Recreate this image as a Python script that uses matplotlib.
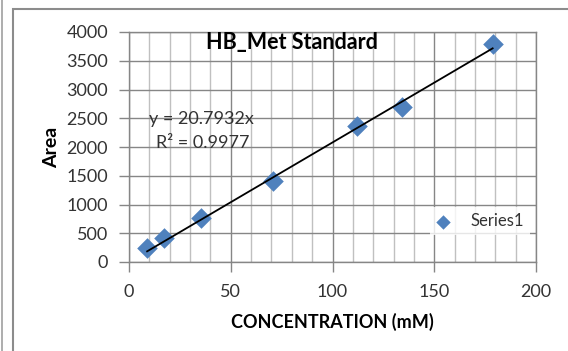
import matplotlib.pyplot as plt
from matplotlib.patches import Rectangle
from matplotlib.lines import Line2D
from matplotlib.ticker import MultipleLocator

# standard curve data
conc = [8.9, 17.4, 35.5, 71.0, 112.0, 134.0, 178.7]
area = [240, 412, 760, 1414, 2370, 2690, 3800]
slope = 20.7932
r2 = 0.9977

plt.rcParams['font.family'] = ['Lato', 'DejaVu Sans']
txt = '#333333'

fig = plt.figure(figsize=(5.68, 3.51), dpi=100)
W, H = 568, 351

# chart area frame (Excel style)
fig.patches.append(Rectangle((13 / W, -0.1), 1.0, (H - 9) / H + 0.1, transform=fig.transFigure,
                             fill=False, edgecolor='#8c8c8c', linewidth=1.5))
fig.lines.append(Line2D([1.5 / W, 1.5 / W], [0, 1], transform=fig.transFigure,
                        color='#a0a0a0', linewidth=1.2))

ax = fig.add_axes([129 / W, 1 - 262 / H, 407 / W, 230 / H])
ax.set_xlim(0, 200)
ax.set_ylim(0, 4000)
ax.xaxis.set_major_locator(MultipleLocator(50))
ax.xaxis.set_minor_locator(MultipleLocator(10))
ax.yaxis.set_major_locator(MultipleLocator(500))

ax.grid(True, which='minor', axis='x', color='#c0c0c0', linewidth=1.0)
ax.grid(True, which='major', axis='both', color='#868686', linewidth=1.0)
ax.set_axisbelow(True)

for s in ax.spines.values():
    s.set_color('#868686')
    s.set_linewidth(1.0)
    s.set_zorder(6)

ax.tick_params(which='major', length=7, width=1.0, color='#868686', labelcolor=txt, labelsize=13)
ax.tick_params(axis='y', pad=8)
ax.tick_params(axis='x', pad=9)
ax.tick_params(which='minor', length=0)

ax.scatter(conc, area, marker='D', s=110, color='#4f81bd', zorder=3, label='Series1', linewidths=0)
xs = [min(conc), max(conc)]
ax.plot(xs, [slope * v for v in xs], color='black', linewidth=1.3, zorder=4)

ax.text(35.6, 2490, 'y = 20.7932x', color=txt, fontsize=13, ha='center', va='center', zorder=5)
ax.text(36.1, 2070, 'R² = 0.9977', color=txt, fontsize=13, ha='center', va='center', zorder=5)

leg = ax.legend(loc='center left', bbox_to_anchor=(0.72, 0.177), frameon=True, fontsize=12,
                handletextpad=1.26, borderpad=0.35, markerscale=0.7, handlelength=0.8)
leg.get_frame().set_facecolor('white')
leg.get_frame().set_edgecolor('white')
leg.get_frame().set_linewidth(0)
leg.get_frame().set_boxstyle('square', pad=0)
for t in leg.get_texts():
    t.set_color(txt)

fig.text(292 / W, 1 - 42 / H, 'HB_Met Standard', fontsize=15.5, fontweight='bold', ha='center', va='center', color='black')
fig.text(52 / W, 1 - 147 / H, 'Area', fontsize=14, fontweight='bold', rotation=90, ha='center', va='center', color='black')
fig.text(332 / W, 1 - 322 / H, 'CONCENTRATION (mM)', fontsize=13, fontweight='bold', ha='center', va='center', color='black')

fig.savefig('out.png', dpi=100)
